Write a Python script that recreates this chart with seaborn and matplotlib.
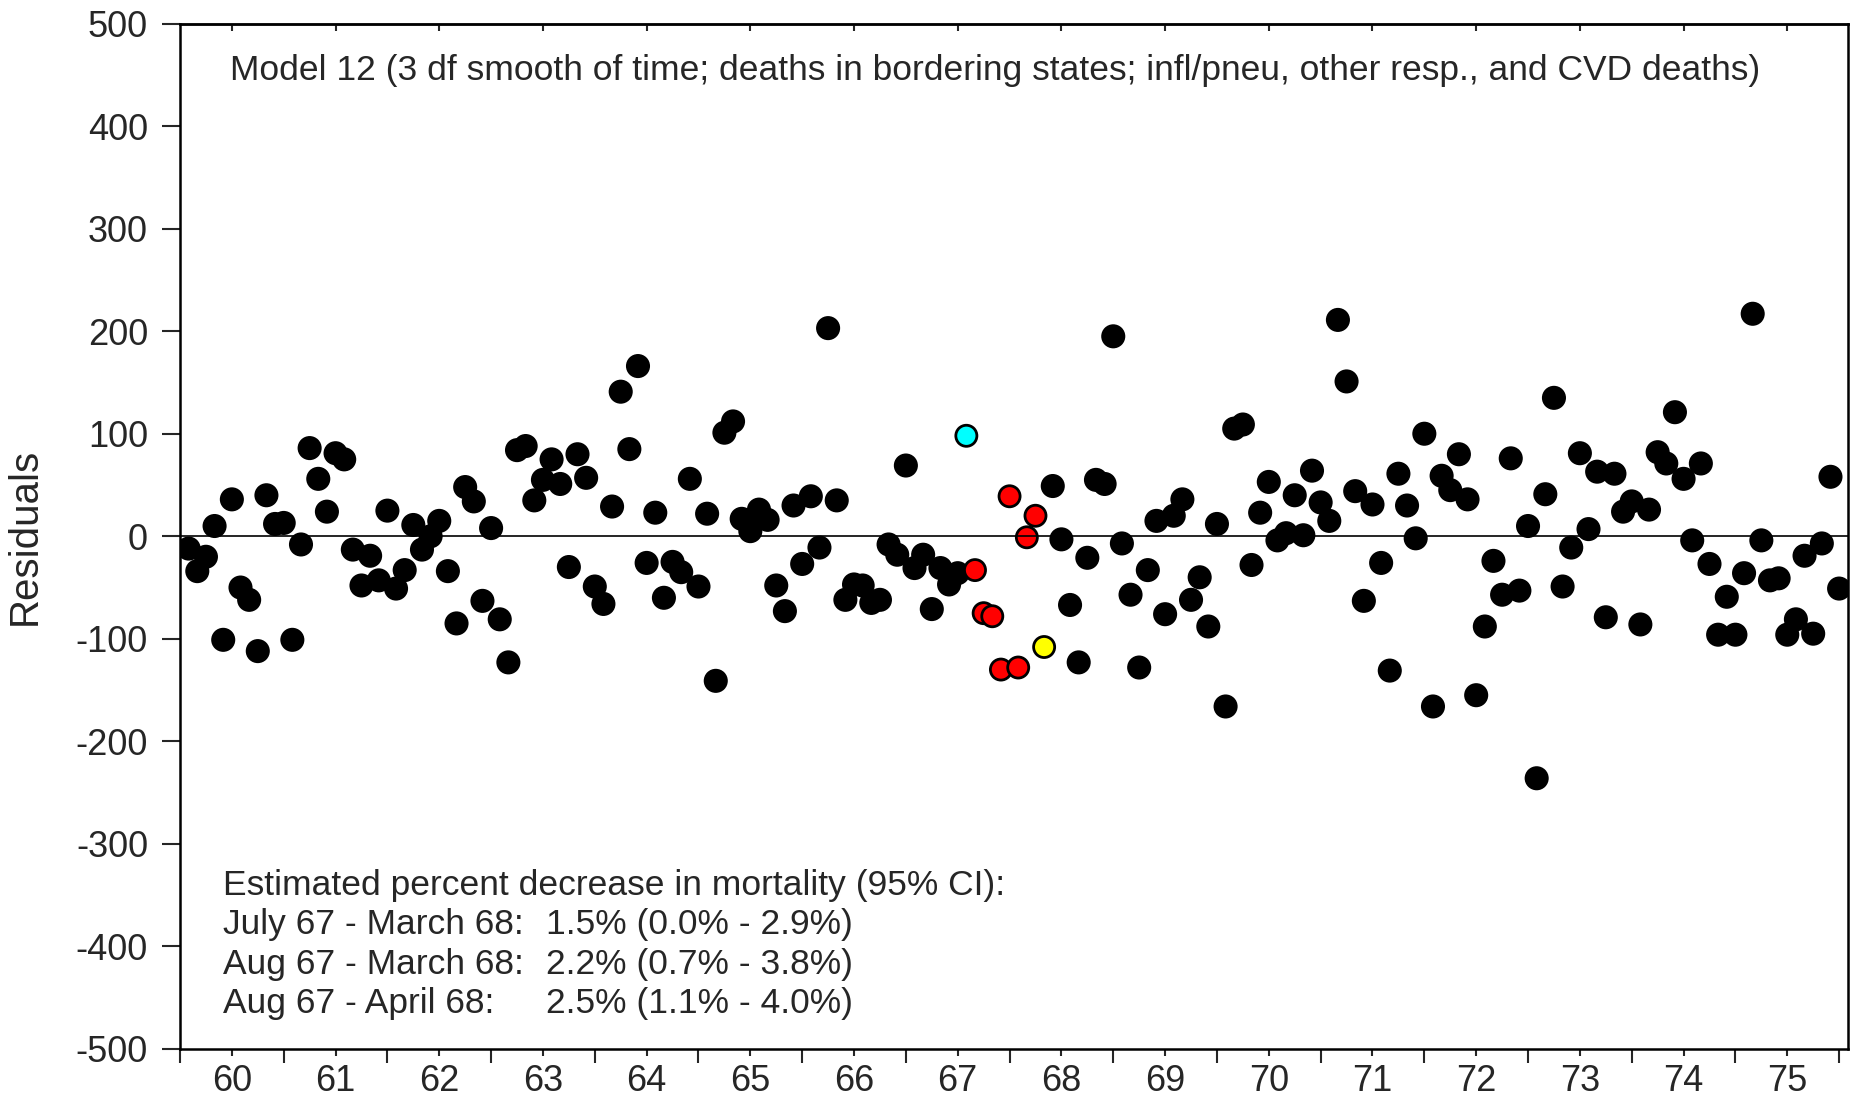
import numpy as np
import pandas as pd
import matplotlib.pyplot as plt
import seaborn as sns

sns.set_theme(style='ticks')
plt.rcParams['font.family'] = ['Liberation Sans', 'DejaVu Sans']
plt.rcParams['axes.unicode_minus'] = False

#Monthly residuals, January to December of each year
r1960 = [-12, -34, -20, 10, -101, 36, -50, -62, -112, 40, 12, 13]
r1961 = [-101, -8, 86, 56, 24, 81, 75, -13, -48, -19, -43, 25]
r1962 = [-51, -33, 11, -13, 0, 15, -34, -85, 48, 34, -63, 8]
r1963 = [-81, -123, 84, 88, 35, 55, 75, 51, -30, 80, 57, -49]
r1964 = [-66, 29, 141, 85, 166, -26, 23, -60, -25, -35, 56, -49]
r1965 = [22, -141, 101, 112, 17, 5, 26, 16, -48, -73, 30, -27]
r1966 = [39, -11, 203, 35, -62, -47, -48, -65, -62, -8, -18, 69]
r1967 = [-31, -18, -71, -31, -47, -36, 98, -33, -75, -78, -130, 39]
r1968 = [-128, -1, 20, -108, 49, -3, -67, -123, -21, 55, 51, 195]
r1969 = [-7, -57, -128, -33, 15, -76, 20, 36, -62, -40, -88, 12]
r1970 = [-166, 105, 109, -28, 23, 53, -4, 3, 40, 1, 64, 33]
r1971 = [15, 211, 151, 44, -63, 31, -26, -131, 61, 30, -2, 100]
r1972 = [-166, 59, 45, 80, 36, -155, -88, -24, -57, 76, -53, 10]
r1973 = [-236, 41, 135, -49, -11, 81, 7, 63, -79, 61, 24, 34]
r1974 = [-86, 26, 82, 71, 121, 56, -4, 71, -27, -96, -59, -96]
r1975 = [-36, 217, -4, -43, -41, -96, -81, -19, -95, -7, 58, -51]

residuos = (r1960 + r1961 + r1962 + r1963 + r1964 + r1965 + r1966 + r1967 +
            r1968 + r1969 + r1970 + r1971 + r1972 + r1973 + r1974 + r1975)

#Highlighted months
meses_ciano = ['1967-07']
meses_vermelho = ['1967-08', '1967-09', '1967-10', '1967-11', '1967-12',
                  '1968-01', '1968-02', '1968-03']
meses_amarelo = ['1968-04']

rotulos_anos = ['60', '61', '62', '63', '64', '65', '66', '67',
                '68', '69', '70', '71', '72', '73', '74', '75']

texto_modelo = ('Model 12 (3 df smooth of time; deaths in bordering states; '
                'infl/pneu, other resp., and CVD deaths)')
texto_titulo = 'Estimated percent decrease in mortality (95% CI):'
periodos = ['July 67 - March 68:', 'Aug 67 - March 68:', 'Aug 67 - April 68:']
estimativas = ['1.5% (0.0% - 2.9%)', '2.2% (0.7% - 3.8%)', '2.5% (1.1% - 4.0%)']

#Building the dataframe
datas = pd.period_range('1960-01', '1975-12', freq='M')
df = pd.DataFrame({'data': datas.astype(str), 'residual': residuos})
df['tempo'] = datas.year + datas.month / 12
df['grupo'] = 'outro'
df.loc[df['data'].isin(meses_ciano), 'grupo'] = 'ciano'
df.loc[df['data'].isin(meses_vermelho), 'grupo'] = 'vermelho'
df.loc[df['data'].isin(meses_amarelo), 'grupo'] = 'amarelo'

cores = {'outro': 'black', 'ciano': '#00FFFF', 'vermelho': '#FF0000', 'amarelo': '#FFFF00'}

fig = plt.figure(figsize=(18.52, 10.97), dpi=100)
ax = fig.add_axes([0.0972, 0.0438, 0.9006, 0.9347])

sns.scatterplot(data=df[df['grupo'] == 'outro'], x='tempo', y='residual', hue='grupo',
                palette=cores, s=260, edgecolor='black', linewidth=1.2, legend=False, ax=ax, zorder=2)
sns.scatterplot(data=df[df['grupo'] != 'outro'], x='tempo', y='residual', hue='grupo',
                palette=cores, s=230, edgecolor='black', linewidth=2.0, legend=False, ax=ax, zorder=2)

ax.axhline(0, color='black', lw=1.2, zorder=3)

ax.set_xlim(1960, 1976.085)
ax.set_ylim(-500, 500)
ax.set_yticks(np.arange(-500, 501, 100))

meio_ano = np.arange(1960, 1976) + 0.5
ax.set_xticks(meio_ano)
ax.set_xticklabels(rotulos_anos)
ax.set_xticks(np.arange(1960, 1977), minor=True)
ax.tick_params(axis='x', which='major', direction='out', length=5, width=1.5, pad=6, labelsize=26)
ax.tick_params(axis='x', which='minor', direction='out', length=10, width=1.5)
ax.tick_params(axis='y', direction='out', length=13, width=1.5, pad=10, labelsize=26)

topo = ax.secondary_xaxis('top')
topo.set_xticks(meio_ano)
topo.tick_params(direction='in', length=5, width=1.5, labeltop=False)

for lado in ['left', 'right', 'top', 'bottom']:
    ax.spines[lado].set_linewidth(1.8)
    ax.spines[lado].set_color('black')
topo.spines['top'].set_linewidth(1.8)

ax.set_xlabel('')
ax.set_ylabel('Residuals', fontsize=29)
ax.yaxis.set_label_coords(-0.0815, 0.5)

ax.text(0.030, 0.954, texto_modelo, transform=ax.transAxes, fontsize=25.5, va='center', ha='left')
ax.text(0.026, 0.159, texto_titulo, transform=ax.transAxes, fontsize=25.5, va='center', ha='left')
for i in range(len(periodos)):
    y = 0.121 - i * 0.0385
    ax.text(0.026, y, periodos[i], transform=ax.transAxes, fontsize=25.5, va='center', ha='left')
    ax.text(0.2195, y, estimativas[i], transform=ax.transAxes, fontsize=25.5, va='center', ha='left')

plt.savefig('out.png', dpi=100)
